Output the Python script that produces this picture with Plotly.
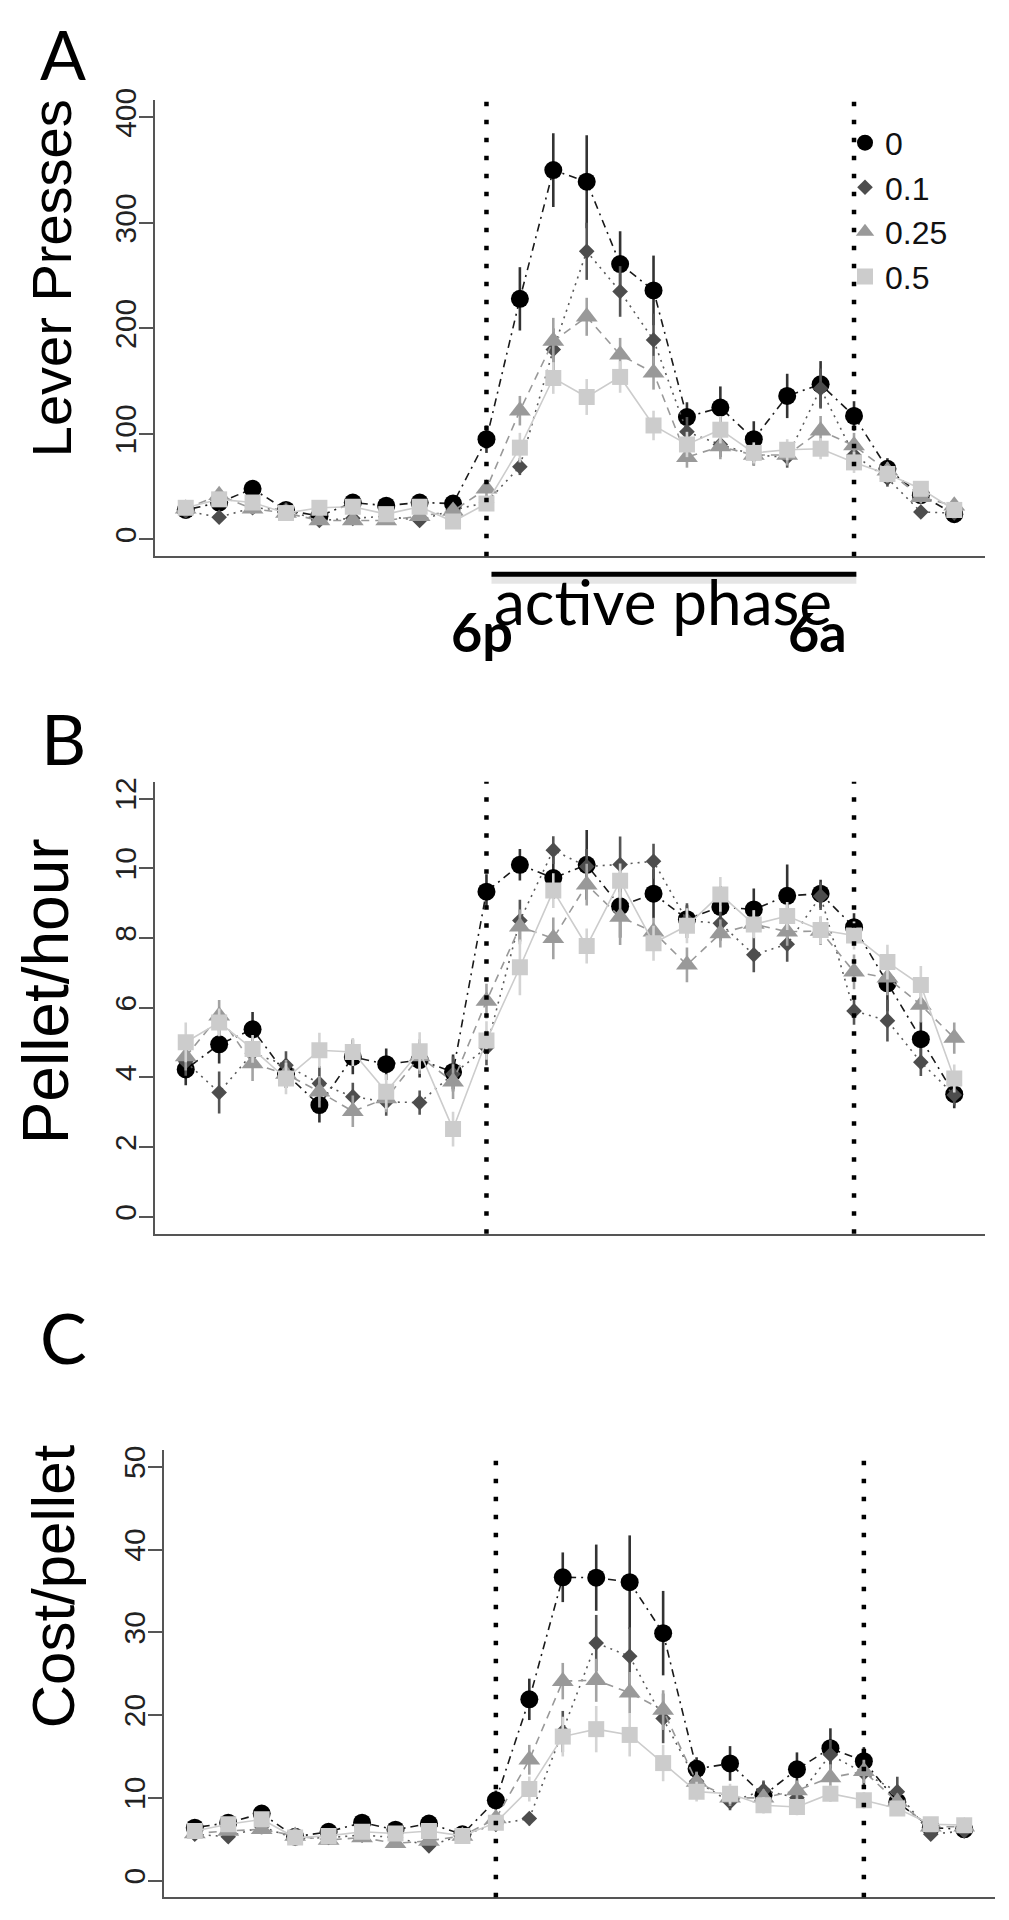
import plotly.graph_objects as go

# page body has an 8px default margin, so the figure is sized/positioned to compensate
OFF = 8
W, H = 1009 - OFF, 1920 - OFF

# ---------------- data ----------------
hours = list(range(24))
doses = ["0", "0.1", "0.25", "0.5"]
phase_bounds = [9, 20]          # 6p and 6a markers (hour index)

# Panel A: lever presses
lever_0 = [28, 35, 48, 28, 22, 35, 32, 35, 34, 95, 228, 350, 339, 261, 236, 116, 125, 95, 136, 147, 117, 67, 42, 24]
lever_0_err = [5, 5, 6, 5, 4, 5, 5, 5, 5, 13, 30, 35, 44, 31, 33, 14, 20, 17, 21, 22, 14, 10, 6, 5]
lever_01 = [27, 21, 30, 28, 18, 20, 22, 18, 28, 35, 69, 180, 273, 235, 189, 102, 90, 80, 78, 143, 80, 58, 26, 25]
lever_01_err = [4, 4, 5, 4, 3, 4, 4, 3, 5, 6, 8, 20, 27, 24, 25, 14, 12, 10, 10, 19, 12, 8, 4, 4]
lever_025 = [29, 42, 29, 25, 18, 18, 18, 22, 27, 48, 122, 188, 211, 175, 158, 78, 88, 80, 80, 103, 89, 65, 40, 32]
lever_025_err = [4, 5, 5, 4, 3, 3, 3, 4, 4, 8, 14, 22, 18, 16, 16, 10, 12, 10, 10, 14, 12, 8, 6, 5]
lever_05 = [30, 38, 35, 25, 30, 31, 24, 31, 17, 34, 87, 153, 135, 154, 108, 90, 104, 82, 85, 86, 73, 62, 48, 28]
lever_05_err = [5, 6, 6, 4, 5, 5, 4, 5, 4, 6, 14, 15, 17, 15, 14, 12, 13, 10, 10, 10, 10, 8, 6, 5]

# Panel B: pellets per hour
pellet_0 = [4.23, 4.95, 5.38, 4.1, 3.21, 4.59, 4.38, 4.5, 4.16, 9.33, 10.1, 9.72, 10.1, 8.91, 9.27, 8.54, 8.89, 8.82, 9.21, 9.27, 8.31, 6.7, 5.1, 3.52]
pellet_0_err = [0.45, 0.55, 0.5, 0.4, 0.5, 0.5, 0.45, 0.5, 0.5, 0.5, 0.45, 0.6, 1.0, 0.9, 0.7, 0.4, 0.6, 0.6, 0.9, 0.4, 0.4, 0.8, 0.5, 0.4]
pellet_01 = [4.45, 3.57, 4.7, 4.35, 3.83, 3.45, 3.3, 3.28, 4.1, 4.85, 8.5, 10.52, 10.05, 10.11, 10.2, 8.5, 8.42, 7.52, 7.82, 9.2, 5.91, 5.63, 4.44, 3.5]
pellet_01_err = [0.4, 0.6, 0.4, 0.4, 0.5, 0.4, 0.4, 0.35, 0.5, 0.5, 0.6, 0.4, 0.5, 0.8, 0.5, 0.5, 0.5, 0.5, 0.5, 0.4, 0.4, 0.6, 0.4, 0.3]
pellet_025 = [4.6, 5.77, 4.4, 4.1, 3.59, 3.03, 3.4, 4.6, 3.88, 6.19, 8.32, 7.99, 9.53, 8.6, 8.18, 7.23, 8.13, 8.4, 8.18, 8.2, 7.03, 6.86, 6.08, 5.13]
pellet_025_err = [0.4, 0.45, 0.5, 0.4, 0.45, 0.45, 0.4, 0.5, 0.5, 0.5, 0.5, 0.6, 0.6, 0.8, 0.4, 0.5, 0.4, 0.4, 0.4, 0.4, 0.5, 0.5, 0.5, 0.45]
pellet_05 = [5.01, 5.58, 4.82, 3.97, 4.78, 4.73, 3.59, 4.75, 2.52, 5.06, 7.16, 9.36, 7.77, 9.64, 7.85, 8.35, 9.25, 8.39, 8.63, 8.23, 8.07, 7.31, 6.65, 3.97]
pellet_05_err = [0.57, 0.4, 0.4, 0.45, 0.5, 0.4, 0.5, 0.55, 0.5, 0.55, 0.8, 0.5, 0.5, 0.5, 0.5, 0.5, 0.5, 0.4, 0.4, 0.4, 0.4, 0.5, 0.55, 0.4]

# Panel C: cost per pellet
cost_0 = [6.4, 7.0, 8.1, 5.3, 5.9, 7.0, 6.15, 6.9, 5.6, 9.7, 21.9, 36.65, 36.6, 36.06, 29.9, 13.5, 14.15, 10.3, 13.44, 16.0, 14.43, 9.5, 6.4, 6.2]
cost_0_err = [0.7, 0.8, 0.8, 0.6, 0.6, 0.7, 0.7, 0.7, 0.6, 1.2, 2.5, 3.0, 4.0, 5.65, 5.1, 1.4, 2.1, 1.6, 2.05, 2.4, 1.7, 1.2, 0.7, 0.6]
cost_01 = [5.6, 5.3, 6.5, 5.1, 5.2, 5.5, 5.2, 4.2, 5.5, 6.8, 7.5, 18.0, 28.7, 27.1, 19.6, 12.0, 9.5, 10.9, 10.0, 15.2, 13.0, 10.75, 5.6, 6.0]
cost_01_err = [0.5, 0.5, 0.6, 0.5, 0.5, 0.5, 0.5, 0.5, 0.5, 0.8, 0.8, 2.5, 3.4, 3.5, 3.0, 1.2, 1.0, 1.2, 1.2, 1.8, 1.5, 1.8, 0.6, 0.6]
cost_025 = [5.7, 6.0, 6.2, 5.4, 4.9, 5.2, 4.5, 4.8, 5.4, 7.5, 14.6, 24.1, 24.2, 22.7, 20.6, 11.9, 10.0, 10.0, 10.9, 12.45, 13.2, 9.5, 6.5, 6.5]
cost_025_err = [0.5, 0.5, 0.6, 0.5, 0.5, 0.5, 0.5, 0.5, 0.5, 0.8, 1.8, 2.2, 2.6, 2.5, 2.4, 1.2, 1.0, 1.0, 1.2, 1.6, 1.4, 1.0, 0.6, 0.6]
cost_05 = [6.0, 6.8, 7.4, 5.2, 5.4, 5.9, 5.7, 6.0, 5.4, 7.0, 11.07, 17.4, 18.3, 17.6, 14.2, 10.75, 10.5, 9.1, 8.9, 10.5, 9.7, 8.7, 6.8, 6.7]
cost_05_err = [0.5, 0.5, 0.6, 0.5, 0.5, 0.5, 0.5, 0.5, 0.5, 0.8, 1.5, 2.4, 2.8, 2.6, 2.2, 1.2, 1.2, 1.0, 1.0, 1.0, 1.0, 0.8, 0.6, 0.6]

lever_ticks = [0, 100, 200, 300, 400]
pellet_ticks = [0, 2, 4, 6, 8, 10, 12]
cost_ticks = [0, 10, 20, 30, 40, 50]

# ---------------- styles ----------------
styles = [
    dict(color="#000000", err="#333333", line="#1a1a1a", symbol="circle", size=18, dash="2px,5px,8px,5px"),
    dict(color="#4d4d4d", err="#555555", line="#5a5a5a", symbol="diamond", size=12, dash="2px,5px"),
    dict(color="#999999", err="#a3a3a3", line="#999999", symbol="triangle-up", size=19, dash="8px,6px"),
    dict(color="#cccccc", err="#d4d4d4", line="#cccccc", symbol="square", size=16, dash="solid"),
]

def py(px):  # screen pixel row -> paper y
    return 1 - (px - OFF) / H

def pxx(px):  # screen pixel column -> paper x
    return (px - OFF) / W

panels = [
    dict(xa="x", ya="y", vals=[lever_0, lever_01, lever_025, lever_05],
         errs=[lever_0_err, lever_01_err, lever_025_err, lever_05_err]),
    dict(xa="x2", ya="y2", vals=[pellet_0, pellet_01, pellet_025, pellet_05],
         errs=[pellet_0_err, pellet_01_err, pellet_025_err, pellet_05_err]),
    dict(xa="x3", ya="y3", vals=[cost_0, cost_01, cost_025, cost_05],
         errs=[cost_0_err, cost_01_err, cost_025_err, cost_05_err]),
]

fig = go.Figure()
for p in panels:
    for st, v, e in zip(styles, p["vals"], p["errs"]):
        fig.add_trace(go.Scatter(
            x=hours, y=v, xaxis=p["xa"], yaxis=p["ya"], mode="lines+markers",
            line=dict(color=st["line"], width=1.6, dash=st["dash"]),
            marker=dict(symbol=st["symbol"], size=st["size"], color=st["color"], line=dict(width=0)),
            error_y=dict(type="data", array=e, visible=True, color=st["err"], thickness=2.6, width=0),
            showlegend=False, hoverinfo="skip"))

# legend (markers only)
for st, name in zip(styles, doses):
    fig.add_trace(go.Scatter(
        x=[None], y=[None], xaxis="x", yaxis="y", mode="markers", name=name,
        marker=dict(symbol=st["symbol"], size=st["size"], color=st["color"], line=dict(width=0)),
        showlegend=True, legendgroup=name))

xrange_ = [-0.92, 23.92]
tickfont = dict(family="Liberation Sans, Arial, sans-serif", size=30, color="#222222")

def xax(domain, anchor):
    return dict(domain=domain, range=xrange_, anchor=anchor, showline=True, linecolor="#555555",
                linewidth=2, showticklabels=False, ticks="", showgrid=False, zeroline=False, fixedrange=True)

def yax(domain, rng, ticks, anchor):
    return dict(domain=domain, range=rng, anchor=anchor, tickvals=ticks, ticktext=[str(t) for t in ticks],
                ticks="outside", ticklen=14, tickwidth=2, tickcolor="#555555", showline=True,
                linecolor="#555555", linewidth=2, showgrid=False, zeroline=False, tickangle=-90,
                ticklabelstandoff=-9, tickfont=tickfont, fixedrange=True)

fig.update_layout(
    width=W, height=H, margin=dict(l=0, r=0, t=0, b=0),
    paper_bgcolor="white", plot_bgcolor="white",
    xaxis=xax([pxx(155), pxx(985)], "y"),
    xaxis2=xax([pxx(155), pxx(985)], "y2"),
    xaxis3=xax([pxx(164), pxx(995)], "y3"),
    yaxis=yax([py(547), py(88)], [-16, 416], lever_ticks, "x"),
    yaxis2=yax([py(1229), py(774)], [-0.48, 12.48], pellet_ticks, "x2"),
    yaxis3=yax([py(1897), py(1447)], [-2, 52], cost_ticks, "x3"),
    showlegend=True,
    legend=dict(x=pxx(845), y=py(103), xanchor="left", yanchor="top", bgcolor="rgba(0,0,0,0)",
                font=dict(family="Liberation Sans, Arial, sans-serif", size=32, color="#111111"),
                itemsizing="trace", itemwidth=30, tracegroupgap=0, traceorder="normal"),
)

# dotted phase boundaries
shapes = []
for xa, ya in [("x", "y"), ("x2", "y2"), ("x3", "y3")]:
    for b in phase_bounds:
        shapes.append(dict(type="line", xref=xa, yref=ya + " domain", x0=b, x1=b, y0=0, y1=1,
                           line=dict(color="black", width=4.5, dash="4.5px,13.5px"), layer="above"))
# active phase bar with soft shadow
shapes.append(dict(type="line", xref="x", yref="paper", x0=phase_bounds[0] + 0.15, x1=phase_bounds[1] + 0.07,
                   y0=py(570), y1=py(570), line=dict(color="rgba(0,0,0,0.10)", width=9)))
shapes.append(dict(type="line", xref="x", yref="paper", x0=phase_bounds[0] + 0.15, x1=phase_bounds[1] + 0.07,
                   y0=py(565), y1=py(565), line=dict(color="black", width=5)))
fig.update_layout(shapes=shapes)

lato = "Lato, Open Sans, sans-serif"
arial = "Liberation Sans, Arial, sans-serif"
ann = []
for letter, cy, fs in [("A", 41, 68), ("B", 730, 70), ("C", 1333, 70)]:
    ann.append(dict(text=letter, x=pxx(63), y=py(cy), xref="paper", yref="paper", showarrow=False,
                    xanchor="center", yanchor="middle", font=dict(family=lato, size=fs, color="black")))
for title, cx, cy, fs in [("Lever Presses", 51, 267, 56), ("Pellet/hour", 46, 985, 64), ("Cost/pellet", 53, 1584, 60)]:
    ann.append(dict(text=title, x=pxx(cx), y=py(cy), xref="paper", yref="paper", showarrow=False,
                    textangle=-90, xanchor="center", yanchor="middle",
                    font=dict(family=arial, size=fs, color="black")))
ann.append(dict(text="active phase", x=pxx(663), y=py(592), xref="paper", yref="paper", showarrow=False,
                xanchor="center", yanchor="middle", font=dict(family=lato, size=62, color="black")))
for lbl, cx in [("6p", 482), ("6a", 817)]:
    ann.append(dict(text="<b>%s</b>" % lbl, x=pxx(cx), y=py(623), xref="paper", yref="paper", showarrow=False,
                    xanchor="center", yanchor="middle", font=dict(family=lato, size=54, color="black")))
fig.update_layout(annotations=ann)

fig.write_html("out.html")
